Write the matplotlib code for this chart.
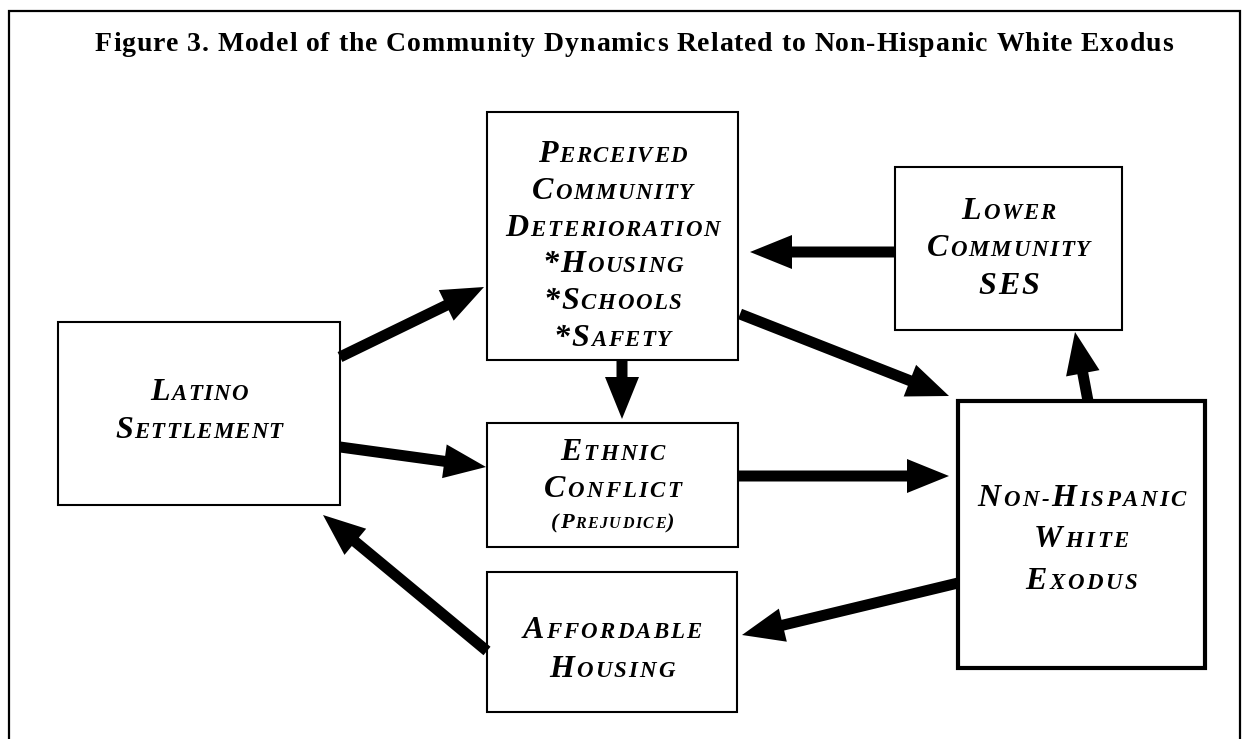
import matplotlib
matplotlib.use("Agg")
import matplotlib.pyplot as plt
from matplotlib.patches import Rectangle, FancyArrow
from matplotlib.font_manager import FontProperties

# ---------------- content ----------------
title = "Figure 3. Model of the Community Dynamics Related to Non-Hispanic White Exodus"

# node labels: uppercase = full capital, lowercase = small capital
node_names = ["perceived", "lower", "latino", "ethnic", "exodus", "affordable"]
node_lines = {
    "perceived": ["Perceived", "Community", "Deterioration", "*Housing", "*Schools", "*Safety"],
    "lower": ["Lower", "Community", "SES"],
    "latino": ["Latino", "Settlement"],
    "ethnic": ["Ethnic", "Conflict", "(Prejudice)"],
    "exodus": ["Non-Hispanic", "White", "Exodus"],
    "affordable": ["Affordable", "Housing"],
}
# directed links (source -> target)
links = [
    ("latino", "perceived"),
    ("latino", "ethnic"),
    ("perceived", "ethnic"),
    ("perceived", "exodus"),
    ("ethnic", "exodus"),
    ("lower", "perceived"),
    ("exodus", "lower"),
    ("exodus", "affordable"),
    ("affordable", "latino"),
]

# ---------------- layout (pixel space) ----------------
W, H = 1243, 739
box_rect = {  # x0, y0, x1, y1
    "perceived": (487, 112, 738, 360),
    "lower": (895, 167, 1122, 330),
    "latino": (58, 322, 340, 505),
    "ethnic": (487, 423, 738, 547),
    "exodus": (958, 401, 1205, 668),
    "affordable": (487, 572, 737, 712),
}
box_lw = {k: 1.5 for k in box_rect}
box_lw["exodus"] = 3.0
text_baselines = {
    "perceived": [162, 199, 236, 272, 309, 346],
    "lower": [219, 256, 294],
    "latino": [400, 438],
    "ethnic": [460, 497, 528],
    "exodus": [506, 547, 589],
    "affordable": [638, 677],
}
line_scale = {("ethnic", 2): 0.7}
line_track = {"latino": 1.2, "perceived": 1.6, "lower": 1.8, "ethnic": 2.2,
              "exodus": 2.6, "affordable": 2.2}
link_geom = {  # tail (x, y), tip (x, y)
    ("latino", "perceived"): ((340, 357), (484, 287)),
    ("latino", "ethnic"): ((340, 447), (486, 467)),
    ("perceived", "ethnic"): ((622, 360), (622, 419)),
    ("perceived", "exodus"): ((740, 314), (949, 396)),
    ("ethnic", "exodus"): ((738, 476), (949, 476)),
    ("lower", "perceived"): ((895, 252), (750, 252)),
    ("exodus", "lower"): ((1088, 401), (1075, 332)),
    ("exodus", "affordable"): ((958, 583), (742, 635)),
    ("affordable", "latino"): ((487, 651), (323, 515)),
}

fig = plt.figure(figsize=(W / 100, H / 100), dpi=100)
ax = fig.add_axes([0, 0, 1, 1])
ax.set_xlim(0, W)
ax.set_ylim(H, 0)
ax.axis("off")
renderer = fig.canvas.get_renderer()

# outer frame (open at bottom)
ax.plot([9, 9, 1240, 1240], [H, 11, 11, H], color="black", lw=1.6,
        solid_joinstyle="miter", zorder=1)

def char_w(ch, prop):
    if ch == " ":
        return prop.get_size_in_points() * 0.25 * 100 / 72
    w, h, d = renderer.get_text_width_height_descent(ch, prop, ismath=False)
    return w

# title
tprop = FontProperties(family="Liberation Serif", weight="bold", size=20)
widths = [char_w(c, tprop) for c in title]
target = 1173 - 95
track = (target - sum(widths)) / (len(title) - 1)
x = 95
for c, w in zip(title, widths):
    if c != " ":
        ax.text(x, 51, c, fontproperties=tprop, ha="left", va="baseline", zorder=5)
    x += w + track

BIG, SMALL = 23.0, 16.5

def draw_sc_line(cx, by, s, scale=1.0, tr=2.0):
    big = FontProperties(family="Liberation Serif", weight="bold", style="italic", size=BIG * scale)
    small = FontProperties(family="Liberation Serif", weight="bold", style="italic", size=SMALL * scale)
    pieces = []
    prev = big
    for ch in s:
        if ch.islower():
            p = small
            g = ch.upper()
        elif ch == "-":
            p = prev
            g = ch
        else:
            p = big
            g = ch
        pieces.append((g, p))
        prev = p
    tr = tr * scale
    ws = [char_w(g, p) for g, p in pieces]
    total = sum(ws) + tr * (len(ws) - 1)
    x = cx - total / 2
    for (g, p), w in zip(pieces, ws):
        ax.text(x, by, g, fontproperties=p, ha="left", va="baseline", zorder=5)
        x += w + tr

for name in node_names:
    x0, y0, x1, y1 = box_rect[name]
    ax.add_patch(Rectangle((x0, y0), x1 - x0, y1 - y0, facecolor="white",
                           edgecolor="black", lw=box_lw[name], zorder=3,
                           joinstyle="miter"))
    cx = (x0 + x1) / 2
    for i, (ln, by) in enumerate(zip(node_lines[name], text_baselines[name])):
        draw_sc_line(cx, by, ln, line_scale.get((name, i), 1.0), line_track[name])

for src, dst in links:
    (xa, ya), (xb, yb) = link_geom[(src, dst)]
    ax.add_patch(FancyArrow(xa, ya, xb - xa, yb - ya, width=11, head_width=34,
                            head_length=42, length_includes_head=True,
                            color="black", lw=0, zorder=4))

fig.savefig("out.png", dpi=100)
